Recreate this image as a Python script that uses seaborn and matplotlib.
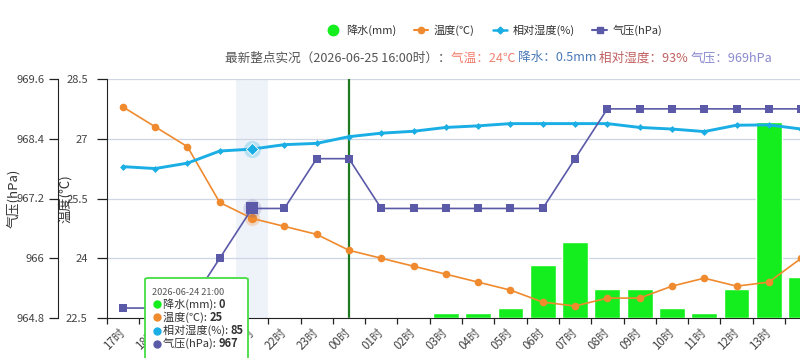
import matplotlib
matplotlib.use('Agg')
import matplotlib.pyplot as plt
import seaborn as sns
from matplotlib.lines import Line2D
from matplotlib.patches import FancyBboxPatch

# 逐小时数据
hours = ['17时', '18时', '19时', '20时', '21时', '22时', '23时', '00时', '01时', '02时', '03时',
         '04时', '05时', '06时', '07时', '08时', '09时', '10时', '11时', '12时', '13时', '14时']
rain = [0, 0, 0, 0, 0, 0, 0, 0, 0, 0, 0.1, 0.1, 0.2, 1.1, 1.6, 0.6, 0.6, 0.2, 0.1, 0.6, 4.1, 0.85]
temp = [27.8, 27.3, 26.8, 25.4, 25.0, 24.8, 24.6, 24.2, 24.0, 23.8, 23.6,
        23.4, 23.2, 22.9, 22.8, 23.0, 23.0, 23.3, 23.5, 23.3, 23.4, 24.0]
humid = [79.5, 78.9, 80.6, 84.4, 85, 86.4, 86.8, 88.9, 90, 90.6, 91.8,
         92.3, 93, 93, 93, 93, 91.8, 91.3, 90.5, 92.5, 92.6, 91.3]
press = [965, 965, 965, 966, 967, 967, 968, 968, 967, 967, 967,
         967, 967, 967, 968, 969, 969, 969, 969, 969, 969, 969]

temp_ticks = [22.5, 24, 25.5, 27, 28.5]
temp_labels = ['22.5', '24', '25.5', '27', '28.5']
press_ticks = [964.8, 966, 967.2, 968.4, 969.6]
press_labels = ['964.8', '966', '967.2', '968.4', '969.6']

hover = 4        # 21时
now_idx = 7      # 00时

C_RAIN = '#14ee1e'
C_TEMP = '#ef8a2e'
C_HUM = '#1aaee5'
C_PRES = '#5a5aa8'

sns.set_style('white')
plt.rcParams['font.family'] = ['Noto Sans CJK SC', 'DejaVu Sans']
plt.rcParams['axes.unicode_minus'] = False

W, H = 800, 358
fig = plt.figure(figsize=(W / 100, H / 100), dpi=100)
x0, y_top, y_bot = 106.7, 79, 318
ax = fig.add_axes([x0 / W, (H - y_bot) / H, 1 - x0 / W, (y_bot - y_top) / H])
ax_r = ax.twinx()
ax_t = ax.twinx()
ax_h = ax.twinx()
ax_p = ax.twinx()

idx = list(range(len(hours)))

# 柱状图：降水
sns.barplot(x=idx, y=rain, ax=ax_r, color=C_RAIN, saturation=1, width=0.8, native_scale=True)

# 折线
sns.lineplot(x=idx, y=temp, ax=ax_t, color=C_TEMP, linewidth=1.2, marker='o',
             markersize=5.5, markeredgewidth=0)
sns.lineplot(x=idx, y=humid, ax=ax_h, color=C_HUM, linewidth=2.1, marker='D',
             markersize=3.5, markeredgewidth=0)
sns.lineplot(x=idx, y=press, ax=ax_p, color=C_PRES, linewidth=1.2, marker='s',
             markersize=5.5, markeredgewidth=0)

# 悬停高亮点
ax_t.scatter([hover], [temp[hover]], s=120, color=C_TEMP, alpha=0.25, linewidths=0, zorder=5)
ax_t.scatter([hover], [temp[hover]], s=45, color=C_TEMP, linewidths=0, zorder=6)
ax_h.scatter([hover], [humid[hover]], s=150, color=C_HUM, alpha=0.25, linewidths=0, zorder=5)
ax_h.scatter([hover], [humid[hover]], s=40, marker='D', color=C_HUM, edgecolors='white',
             linewidths=0.6, zorder=6)
ax_p.scatter([hover], [press[hover]], s=170, color=C_PRES, alpha=0.2, linewidths=0, zorder=5)
ax_p.scatter([hover], [press[hover]], s=75, marker='s', color=C_PRES, linewidths=0, zorder=6)

# 底层：网格、悬停阴影、当前时间线
ax.set_axisbelow(True)
ax.axvspan(hover - 0.5, hover + 0.5, color='#eef2f9', zorder=0.1, lw=0)
ax.axvline(now_idx, color='#1e7a1e', lw=1.6, zorder=0.6)
ax.set_ylim(22.5, 28.5)
ax.yaxis.set_major_locator(plt.FixedLocator(temp_ticks))
ax.set_yticklabels(temp_labels)
ax.grid(axis='y', color='#cfd6e3', lw=0.9)
ax.grid(axis='x', visible=False)

ax_t.set_ylim(22.5, 28.5)
ax_h.set_ylim(32, 107)
ax_r.set_ylim(0, 5)
ax_p.set_ylim(964.8, 969.6)

for a in (ax_r, ax_t, ax_h):
    a.set_yticks([])
    a.set_ylabel('')
    for s in a.spines.values():
        s.set_visible(False)
    a.tick_params(axis='x', which='both', bottom=False, labelbottom=False)

# 气压轴（左侧外移）
for s in ('top', 'right', 'bottom'):
    ax_p.spines[s].set_visible(False)
ax_p.spines['left'].set_visible(True)
ax_p.spines['left'].set_position(('outward', 49 * 0.72))
ax_p.spines['left'].set_color('#222')
ax_p.yaxis.tick_left()
ax_p.yaxis.set_label_position('left')
ax_p.yaxis.set_major_locator(plt.FixedLocator(press_ticks))
ax_p.set_yticklabels(press_labels)
ax_p.tick_params(axis='y', length=6.3, width=0.9, color='#222', labelsize=8,
                 labelcolor='#444', pad=3.2)
ax_p.tick_params(axis='x', which='both', bottom=False, labelbottom=False)
ax_p.set_ylabel('气压(hPa)', fontsize=9.5, color='#333')
ax_p.yaxis.set_label_coords((20 - x0) / (W - x0), 0.5)

# 温度轴
for s in ('top', 'right'):
    ax.spines[s].set_visible(False)
ax.spines['left'].set_color('#222')
ax.spines['bottom'].set_color('#222')
ax.tick_params(axis='y', length=7.2, width=0.9, color='#222', labelsize=8,
               labelcolor='#444', pad=6.5, left=True)
ax.set_ylabel('温度(℃)', fontsize=9.5, color='#333')
ax.yaxis.set_label_coords((72 - x0) / (W - x0), 0.5)

# x 轴：边界刻度 + 居中标签
ax.xaxis.set_major_locator(plt.FixedLocator([i - 0.5 for i in range(len(hours) + 1)]))
ax.xaxis.set_major_formatter(plt.NullFormatter())
ax.xaxis.set_minor_locator(plt.FixedLocator(idx))
ax.xaxis.set_minor_formatter(plt.FixedFormatter(hours))
ax.tick_params(axis='x', which='major', length=4, width=0.9, color='#222', bottom=True)
ax.tick_params(axis='x', which='minor', length=0, labelsize=8.3, labelcolor='#444', pad=9,
               bottom=True, labelbottom=True)
for lbl in ax.xaxis.get_minorticklabels():
    lbl.set_rotation(45)
    lbl.set_ha('right')
    lbl.set_va('center')
    lbl.set_rotation_mode('anchor')
ax.set_xlabel('')
ax.set_xlim(-0.5, (W - x0) / 32.3 - 0.5)

# 图例
handles = [
    Line2D([], [], ls='none', marker='o', markersize=7.5, color=C_RAIN),
    Line2D([], [], color=C_TEMP, lw=1.5, marker='o', markersize=4.5),
    Line2D([], [], color=C_HUM, lw=1.8, marker='D', markersize=3.5),
    Line2D([], [], color=C_PRES, lw=1.5, marker='s', markersize=4.5),
]
fig.legend(handles, ['降水(mm)', '温度(℃)', '相对湿度(%)', '气压(hPa)'], ncol=4,
           loc='center', bbox_to_anchor=(494 / W, 1 - 30 / H), frameon=False,
           fontsize=8, handlelength=1.3, handletextpad=0.5, columnspacing=1.6,
           labelcolor='#333')

renderer = fig.canvas.get_renderer()


def text_row(x_px, y_px, parts, size):
    x = x_px
    for s, c, w in parts:
        t = fig.text(x / W, 1 - y_px / H, s, color=c, fontsize=size, fontweight=w,
                     ha='left', va='center', zorder=30)
        x += t.get_window_extent(renderer).width


# 最新整点实况
text_row(225, 58, [
    ('最新整点实况（2026-06-25 16:00时）：', '#555555', 'normal'),
    ('气温：24℃ ', '#f08070', 'normal'),
    ('降水：0.5mm ', '#4a7ab8', 'normal'),
    ('相对湿度：93% ', '#c06060', 'normal'),
    ('气压：969hPa', '#8a8ad0', 'normal'),
], 9.1)

# 提示框
box = FancyBboxPatch((145 / W, -10 / H), 103 / W, (H - 278 + 10) / H,
                     boxstyle='round,pad=0,rounding_size=0.004', transform=fig.transFigure,
                     facecolor='white', edgecolor='#44dd44', linewidth=1.3, zorder=20)
fig.add_artist(box)
fig.text(152 / W, 1 - 292.5 / H, '2026-06-24 21:00', fontsize=6.6, color='#555',
         ha='left', va='center', zorder=30)
rows = [('降水(mm): ', str(rain[hover]), C_RAIN, 304),
        ('温度(℃): ', '%d' % temp[hover], C_TEMP, 317.3),
        ('相对湿度(%): ', '%d' % humid[hover], C_HUM, 330.7),
        ('气压(hPa): ', '%d' % press[hover], C_PRES, 343.7)]
for lab, val, col, yy in rows:
    fig.add_artist(Line2D([157 / W], [1 - yy / H], transform=fig.transFigure, ls='none',
                          marker='o', markersize=5, color=col, zorder=30))
    text_row(163, yy, [(lab, '#333', 'normal'), (val, '#333', 'bold')], 8)

fig.savefig('out.png', dpi=100)
